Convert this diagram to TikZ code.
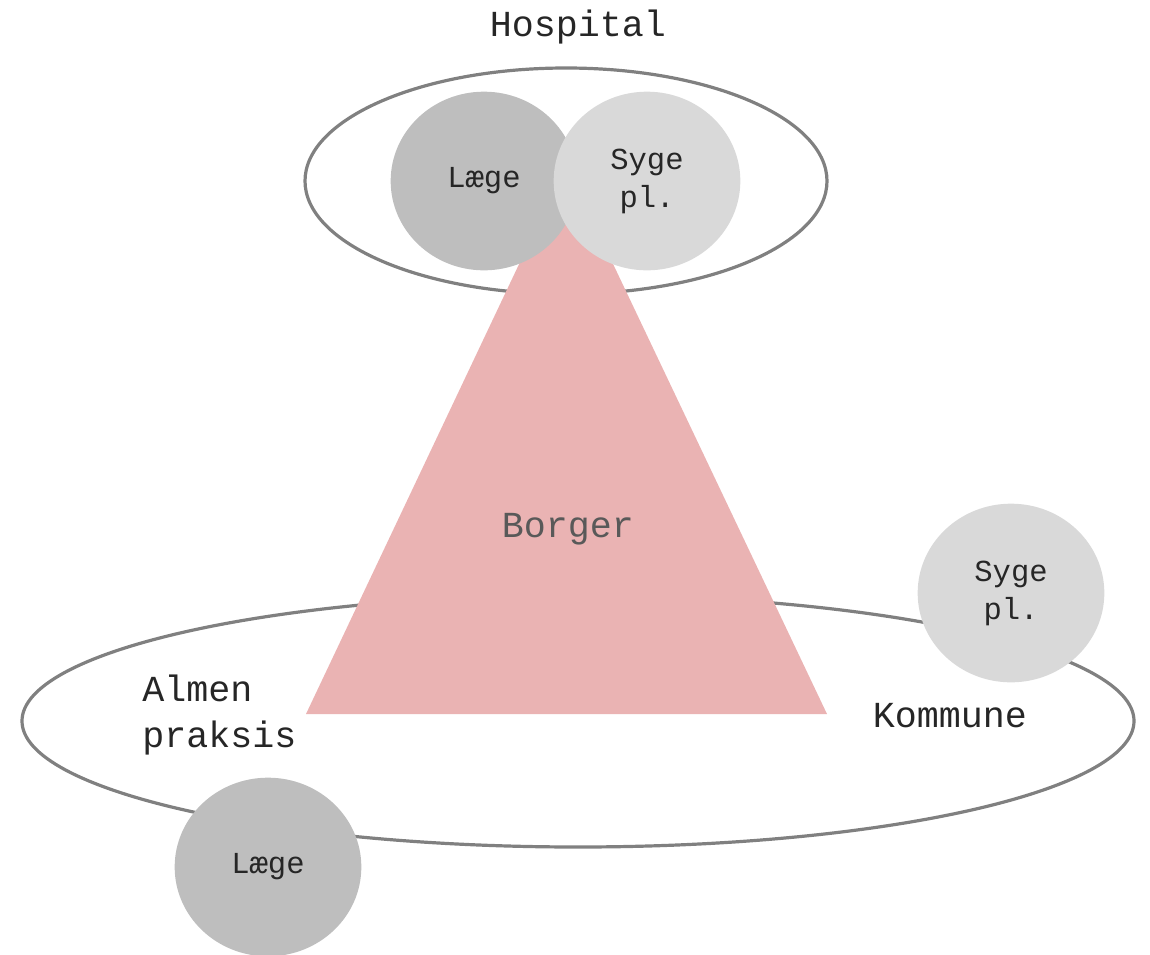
\documentclass[tikz,border=0pt]{standalone}
\usepackage{fontspec}
\setmainfont{Liberation Mono}
\usetikzlibrary{shapes.geometric}
\definecolor{ringgray}{HTML}{808080}
\definecolor{tri}{HTML}{EAB3B3}
\definecolor{dark}{HTML}{BEBEBE}
\definecolor{light}{HTML}{D9D9D9}
\definecolor{txt}{HTML}{262626}
\definecolor{btxt}{HTML}{595959}
\tikzset{
  ring/.style={ellipse, draw=ringgray, line width=2.4pt, inner sep=0pt},
  person/.style={ellipse, inner sep=0pt, minimum width=140pt, minimum height=134pt, text=txt,
     font=\fontsize{22.9}{28.5}\selectfont, align=center},
  bigtxt/.style={text=txt, font=\fontsize{27.5}{34}\selectfont, inner sep=0pt},
}
\begin{document}
\begin{tikzpicture}[x=0.75pt,y=-0.75pt]
\useasboundingbox (0,0) rectangle (1150,954);
\node[ring, minimum width=391.5pt, minimum height=169.5pt] (hosp) at (566,181) {};
\node[ring, minimum width=834pt, minimum height=189pt] (komm) at (578,721) {};
\coordinate (apex) at (566,165);
\coordinate (bl) at (306,714);
\coordinate (br) at (827,714);
\fill[tri] (apex) -- (bl) -- (br) -- cycle;
\node[person, fill=dark] (laege1) at (484,181) {\raisebox{-2pt}{Læge}};
\node[person, fill=light] (syge1) at (647,181) {\raisebox{-2pt}{Syge}\\\raisebox{-2pt}{pl.}};
\node[person, fill=light] (syge2) at (1011,593) {\raisebox{-2pt}{Syge}\\\raisebox{-2pt}{pl.}};
\node[person, fill=dark] (laege2) at (268,867) {\raisebox{-2pt}{Læge}};
\node[bigtxt] (hosptxt) at (578,27) {Hospital};
\node[bigtxt, text=btxt] (borger) at (568,529) {Borger};
\node[bigtxt, align=left, anchor=west] (almen) at (142,715) {Almen\\praksis};
\node[bigtxt] (kommtxt) at (950,716) {Kommune};
\end{tikzpicture}
\end{document}
